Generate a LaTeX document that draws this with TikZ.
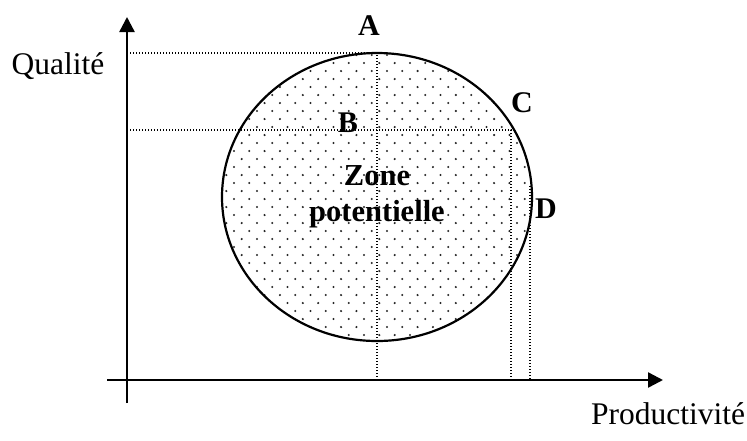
\documentclass[tikz,border=0pt]{standalone}
\usepackage{fontspec}
\setmainfont{Liberation Serif}
\usetikzlibrary{arrows.meta}
\begin{document}
\begin{tikzpicture}[x=1pt,y=-1pt,
  axisline/.style={line width=2.4pt,-{Triangle[length=15pt,width=15pt]}},
  guide/.style={line width=1.5pt,dash pattern=on 1.3pt off 1.7pt},
  ptlabel/.style={font=\fontsize{30}{33}\selectfont\bfseries,inner sep=0pt},
  axlabel/.style={font=\fontsize{31.5}{36}\selectfont,inner sep=0pt}]
\useasboundingbox (0,0) rectangle (747,440);
% coordinates
\coordinate (O) at (127,380);
\coordinate (ybot) at (127,403);
\coordinate (ytop) at (127,17);
\coordinate (xleft) at (107,380);
\coordinate (xright) at (663,380);
\coordinate (ctr) at (377,197);
\coordinate (pA) at (377,53);
\coordinate (pC) at (511,130);
\coordinate (pD) at (530,186);
\coordinate (yA) at (130,53);
\coordinate (yC) at (130,130);
\coordinate (xA) at (377,380);
\coordinate (xC) at (511,380);
\coordinate (xD) at (530,380);
% dotted fill
\begin{scope}
\clip (ctr) ellipse [x radius=155, y radius=144];
\foreach \k in {0,...,37}{
  \foreach \m in {-1,...,20}{
    \fill[black!85] ({234+15.3*\m+7.65*(1-mod(\k,2))},{47+8*\k}) circle [radius=1.15];
  }
}
\end{scope}
% ellipse
\draw[line width=2.2pt] (ctr) ellipse [x radius=155, y radius=144];
% guides
\draw[guide] (yA) -- (pA) -- (xA);
\draw[guide] (yC) -- (pC) -- (xC);
\draw[guide] (pD) -- (xD);
% axes
\draw[axisline] (ybot) -- (ytop);
\draw[axisline] (xleft) -- (xright);
% labels
\node[ptlabel] (lA) at (369,26) {A};
\node[ptlabel] (lB) at (348,123) {B};
\node[ptlabel] (lC) at (522,103) {C};
\node[ptlabel] (lD) at (546,209) {D};
\node[ptlabel,align=center,font=\fontsize{30.5}{36}\selectfont\bfseries] (zone) at (377,197) {Zone\\potentielle};
\node[axlabel] (qual) at (58,66) {Qualité};
\node[axlabel] (prod) at (668,414) {Productivité};
\end{tikzpicture}
\end{document}
